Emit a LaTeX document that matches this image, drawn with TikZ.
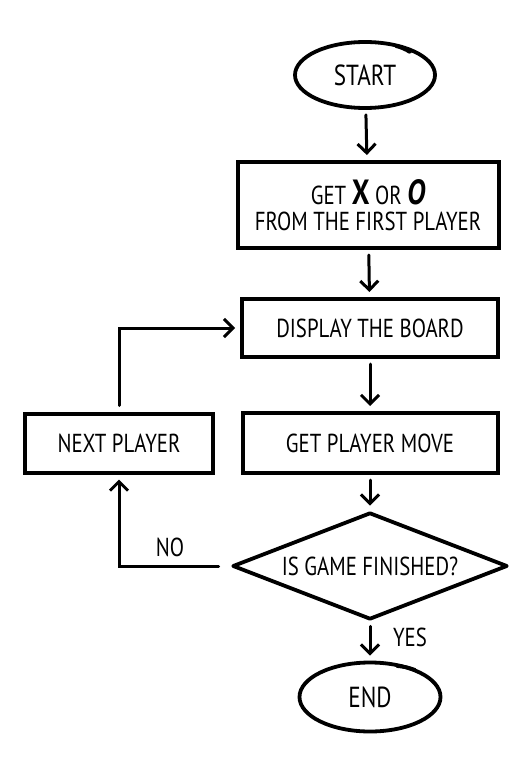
\documentclass[tikz,border=0pt]{standalone}
\usepackage{fontspec}
\setmainfont{PT Sans}[FakeStretch=0.8]
\usetikzlibrary{shapes.geometric, arrows.meta}
\newcommand{\bigmark}{\fontsize{35}{35}\selectfont\bfseries}

\tikzset{
  >={Straight Barb[length=9pt,width=18pt]},
  pen/.style={line width=3.8pt, line cap=round, line join=round},
  terminal/.style={ellipse, draw, pen, minimum width=140pt, minimum height=66pt, inner sep=0pt, font=\fontsize{29}{31}\selectfont},
  process/.style={rectangle, draw, line width=4pt, inner sep=0pt, font=\fontsize{26}{28}\selectfont},
  decision/.style={diamond, draw, pen, aspect=2.5, minimum width=275pt, minimum height=107pt, inner sep=0pt, font=\fontsize{26}{28}\selectfont},
  flow/.style={->, line width=3pt, line cap=round, shorten <=5pt, shorten >=5pt},
  answer/.style={font=\fontsize{26}{28}\selectfont},
}

\begin{document}
\begin{tikzpicture}[x=1pt,y=-1pt]
        \useasboundingbox (0,0) rectangle (529,767);
        % steps
        \node[terminal] (start) at (365,75) {START};
        \node[process, minimum width=261pt, minimum height=86pt, align=center] (getxo) at (368,205)
          {GET {\bigmark X} OR {\bigmark\itshape O}\\[-2pt] FROM THE FIRST PLAYER};
        \node[process, minimum width=256pt, minimum height=58pt] (display) at (370,328) {DISPLAY THE BOARD};
        \node[process, minimum width=255pt, minimum height=60pt] (move) at (370,443) {GET PLAYER MOVE};
        \node[process, minimum width=188pt, minimum height=59pt] (next) at (119,443) {NEXT PLAYER};
        \node[decision] (finished) at (370,566) {IS GAME FINISHED?};
        \node[terminal, minimum width=141pt, minimum height=69pt] (end) at (370,697) {END};
        % pen overshoot on the ovals
        \draw[pen] ([shift={(31,-29)}]start.center) to[bend left=8] ([shift={(45,-23)}]start.center);
        \draw[pen] ([shift={(27,-31)}]end.center) to[bend left=8] ([shift={(45,-27)}]end.center);
        % arrows
        \draw[flow] (start) -- (getxo);
        \draw[flow] (getxo) -- (display);
        \draw[flow] (display) -- (move);
        \draw[flow] (move) -- (finished);
        \draw[flow] (finished) -- (end);
        \draw[flow, shorten <=12pt] (finished.west) -| (next.south);
        \draw[flow, shorten <=6pt] (next.north) |- (display.west);
        \node[answer] (no) at (170,547) {NO};
        \node[answer] (yes) at (410,637) {YES};
\end{tikzpicture}
\end{document}
